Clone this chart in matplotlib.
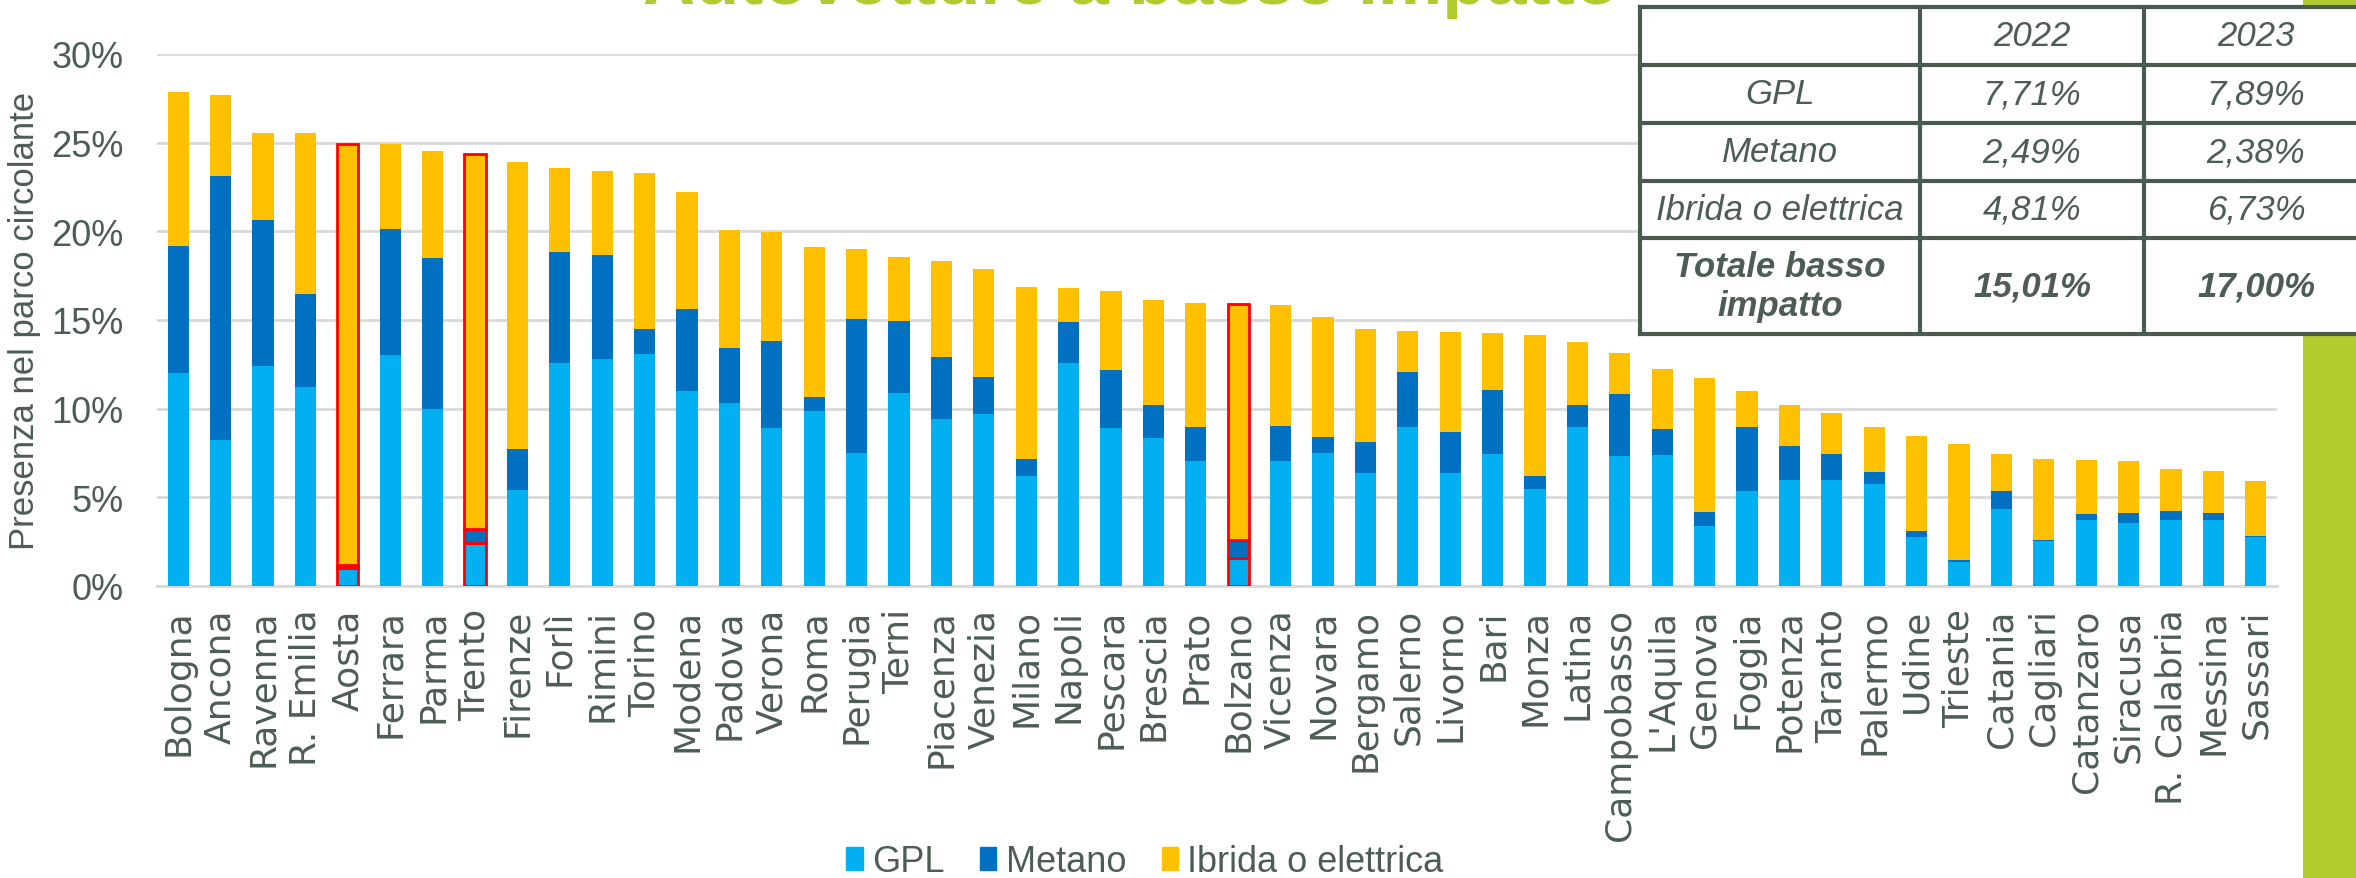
import numpy as np
import matplotlib
matplotlib.use("Agg")
import matplotlib.pyplot as plt
from matplotlib.patches import Rectangle, Patch
from matplotlib.ticker import FuncFormatter

plt.rcParams['font.family'] = ['Liberation Sans', 'DejaVu Sans']

# data (percent of circulating cars)
citta = ["Bologna", "Ancona", "Ravenna", "R. Emilia", "Aosta", "Ferrara", "Parma", "Trento",
         "Firenze", "Forlì", "Rimini", "Torino", "Modena", "Padova", "Verona", "Roma",
         "Perugia", "Terni", "Piacenza", "Venezia", "Milano", "Napoli", "Pescara", "Brescia",
         "Prato", "Bolzano", "Vicenza", "Novara", "Bergamo", "Salerno", "Livorno", "Bari",
         "Monza", "Latina", "Campobasso", "L'Aquila", "Genova", "Foggia", "Potenza", "Taranto",
         "Palermo", "Udine", "Trieste", "Catania", "Cagliari", "Catanzaro", "Siracusa",
         "R. Calabria", "Messina", "Sassari"]
gpl = [12.02, 8.24, 12.40, 11.21, 1.00, 13.02, 9.99, 2.41, 5.43, 12.58, 12.78, 13.08, 10.99,
       10.31, 8.92, 9.85, 7.50, 10.87, 9.43, 9.71, 6.21, 12.56, 8.92, 8.36, 7.05,
       1.57, 7.03, 7.50, 6.39, 8.96, 6.39, 7.44, 5.49, 8.96, 7.34, 7.38, 3.40, 5.37,
       5.95, 6.00, 5.78, 2.76, 1.37, 4.35, 2.55, 3.70, 3.56, 3.71, 3.70, 2.74]
metano = [7.15, 14.87, 8.24, 5.23, 0.17, 7.12, 8.52, 0.81, 2.31, 6.27, 5.91, 1.41, 4.62,
          3.13, 4.89, 0.82, 7.55, 4.08, 3.47, 2.07, 0.96, 2.33, 3.28, 1.87, 1.93,
          1.04, 1.97, 0.92, 1.71, 3.12, 2.29, 3.59, 0.72, 1.23, 3.49, 1.48, 0.80, 3.61,
          1.97, 1.47, 0.64, 0.35, 0.09, 1.00, 0.04, 0.35, 0.55, 0.51, 0.43, 0.06]
ibrida = [8.66, 4.56, 4.92, 9.08, 23.75, 4.78, 6.01, 21.16, 16.17, 4.74, 4.72, 8.82, 6.60,
          6.64, 6.13, 8.42, 3.94, 3.62, 5.45, 6.09, 9.71, 1.91, 4.42, 5.91, 7.00,
          13.27, 6.82, 6.73, 6.41, 2.29, 5.67, 3.22, 7.94, 3.56, 2.31, 3.38, 7.54, 1.99,
          2.27, 2.29, 2.55, 5.33, 6.57, 2.12, 4.58, 3.04, 2.93, 2.37, 2.34, 3.11]
evidenziate = ["Aosta", "Trento", "Bolzano"]

righe_tab = ["GPL", "Metano", "Ibrida o elettrica", "Totale basso\nimpatto"]
val_2022 = ["7,71%", "2,49%", "4,81%", "15,01%"]
val_2023 = ["7,89%", "2,38%", "6,73%", "17,00%"]

c_gpl = "#00B0F0"
c_met = "#0070C0"
c_ibr = "#FFC000"
grigio = "#4D5D53"
verde = "#B3CB2E"

W, H = 2356, 879
fig = plt.figure(figsize=(W / 100, H / 100), dpi=100)

# green band on the right
band = fig.add_axes([2303 / W, 0, (W - 2303) / W, 1])
band.set_facecolor(verde)
band.set_xticks([])
band.set_yticks([])
for s in band.spines.values():
    s.set_visible(False)

ax = fig.add_axes([157 / W, (H - 587) / H, (2277 - 157) / W, (587 - 55) / H])
x = np.arange(len(citta))
gpl_a = np.array(gpl)
met_a = np.array(metano)
ibr_a = np.array(ibrida)
edge = ["#FF0000" if c in evidenziate else "none" for c in citta]
lw = [2 if c in evidenziate else 0 for c in citta]
w = 0.5
ax.bar(x, gpl_a, w, color=c_gpl, edgecolor=edge, linewidth=lw, zorder=3)
ax.bar(x, met_a, w, bottom=gpl_a, color=c_met, edgecolor=edge, linewidth=lw, zorder=3)
ax.bar(x, ibr_a, w, bottom=gpl_a + met_a, color=c_ibr, edgecolor=edge, linewidth=lw, zorder=3)

ax.set_xlim(-0.5, len(citta) - 0.5)
ax.set_ylim(0, 30)
ax.set_yticks(np.arange(0, 31, 5))
ax.yaxis.set_major_formatter(FuncFormatter(lambda v, p: f"{v:.0f}%"))
ax.grid(axis='y', color="#D9D9D9", linewidth=2, zorder=0)
ax.set_axisbelow(True)
for s in ["top", "right", "left"]:
    ax.spines[s].set_visible(False)
ax.spines["bottom"].set_color("#D9D9D9")
ax.spines["bottom"].set_linewidth(2)
ax.set_xticks(x)
ax.set_xticklabels(citta, rotation=90, fontsize=26, color=grigio, family='DejaVu Sans')
ax.tick_params(axis='x', length=0, pad=16)
ax.tick_params(axis='y', length=0, pad=24, labelsize=26, labelcolor=grigio)

fig.text(25 / W, 1 - 321 / H, "Presenza nel parco circolante", rotation=90,
         ha='center', va='center', fontsize=25, color=grigio)

fig.text(1131 / W, 1 - 4 / H, "Autovetture a basso impatto", ha='center', va='baseline',
         fontsize=52, fontweight='bold', color=verde)

handles = [Patch(color=c_gpl, label="GPL"), Patch(color=c_met, label="Metano"),
           Patch(color=c_ibr, label="Ibrida o elettrica")]
fig.legend(handles=handles, loc='center', bbox_to_anchor=(1145 / W, 1 - 863 / H),
           ncol=3, frameon=False, fontsize=26, labelcolor=grigio,
           handlelength=0.45, handleheight=0.6, handletextpad=0.25, columnspacing=1.0)

# summary table, drawn in pixel coordinates
t_left, t_right, t_top, t_bot = 1640, 2368, 8, 335
tab = fig.add_axes([t_left / W, (H - t_bot) / H, (t_right - t_left) / W, (t_bot - t_top) / H])
tab.set_xlim(t_left, t_right)
tab.set_ylim(t_bot, t_top)
tab.axis('off')
tab.add_patch(Rectangle((t_left, t_top), t_right - t_left, t_bot - t_top,
                        facecolor="white", edgecolor="none", zorder=0))
col_x = [1640, 1920, 2144, 2368]
row_y = [8, 66, 124, 182, 239, 335]
for cx in col_x:
    tab.plot([cx, cx], [row_y[0], row_y[-1]], color="#4A5A4E", lw=3, zorder=2, clip_on=False)
for ry in row_y:
    tab.plot([col_x[0], col_x[-1]], [ry, ry], color="#4A5A4E", lw=3, zorder=2, clip_on=False)
centers = [(col_x[i] + col_x[i + 1]) / 2 for i in range(3)]
fs = 25
tab.text(centers[1], (row_y[0] + row_y[1]) / 2, "2022", ha='center', va='center',
         fontsize=fs, style='italic', color=grigio)
tab.text(centers[2], (row_y[0] + row_y[1]) / 2, "2023", ha='center', va='center',
         fontsize=fs, style='italic', color=grigio)
for i, nome in enumerate(righe_tab):
    yc = (row_y[i + 1] + row_y[i + 2]) / 2
    peso = 'bold' if i == 3 else 'normal'
    tab.text(centers[0], yc, nome, ha='center', va='center', fontsize=fs, style='italic',
             fontweight=peso, color=grigio, linespacing=1.2)
    tab.text(centers[1], yc, val_2022[i], ha='center', va='center', fontsize=fs,
             style='italic', fontweight=peso, color=grigio)
    tab.text(centers[2], yc, val_2023[i], ha='center', va='center', fontsize=fs,
             style='italic', fontweight=peso, color=grigio)

fig.savefig("out.png", dpi=100)
